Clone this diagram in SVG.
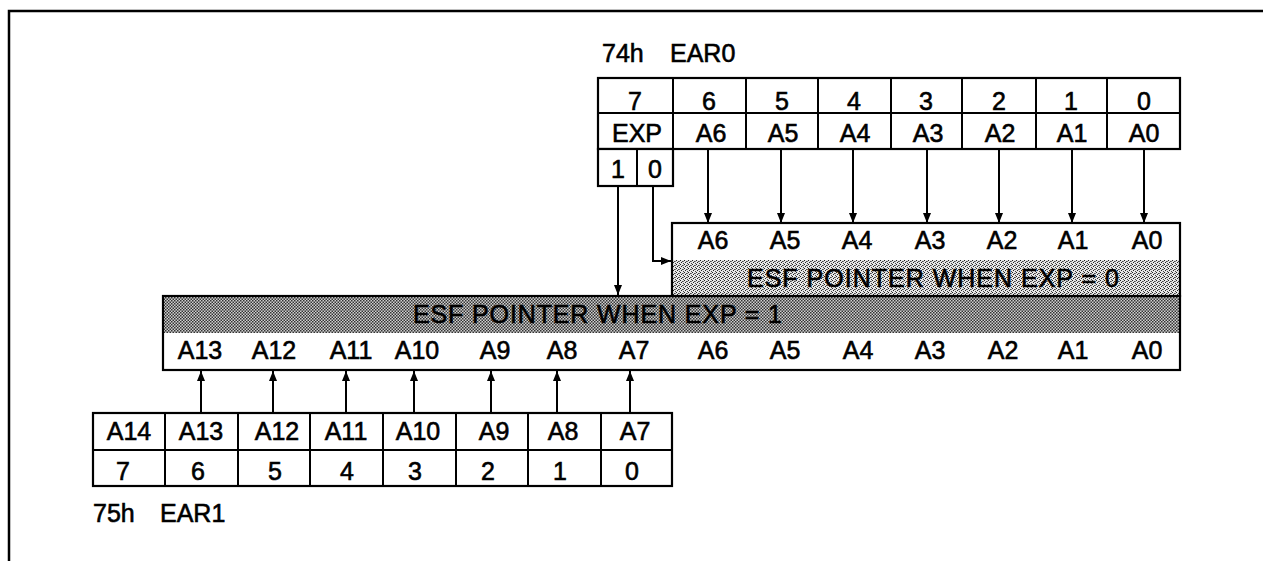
<svg xmlns="http://www.w3.org/2000/svg" width="1263" height="561" viewBox="0 0 1263 561">
<style>
text{font-family:"Liberation Sans",Arial,Helvetica,sans-serif;font-size:25px;fill:#000;stroke:#000;stroke-width:0.6}
.c{text-anchor:middle}
.box{fill:#fff;stroke:#000;stroke-width:2.2}
.ln{fill:none;stroke:#000;stroke-width:2}
.cn{fill:none;stroke:#000;stroke-width:2}
</style>
<defs>
<pattern id="chk" width="3" height="3" patternUnits="userSpaceOnUse">
<rect width="3" height="3" fill="#d0d0d0"/>
<rect x="0" y="0" width="1.5" height="1.5" fill="#333"/>
<rect x="1.5" y="1.5" width="1.5" height="1.5" fill="#333"/>
</pattern>
<pattern id="dth" width="4" height="4" patternUnits="userSpaceOnUse">
<rect width="4" height="4" fill="#e6e6e6"/>
<rect x="0" y="0" width="1" height="1" fill="#222"/>
<rect x="2" y="1" width="1" height="1" fill="#444"/>
<rect x="1" y="2" width="1" height="1" fill="#222"/>
<rect x="3" y="3" width="1" height="1" fill="#444"/>
<rect x="3" y="1" width="1" height="1" fill="#777"/>
</pattern>
<marker id="ah" viewBox="0 0 10 10" refX="10" refY="5" markerWidth="10" markerHeight="10" markerUnits="userSpaceOnUse" orient="auto">
<path d="M0,1 L10,5 L0,9 Z" fill="#000"/>
</marker>
</defs>

<g id="frame">
<path d="M9,561 V11 H1263" fill="none" stroke="#000" stroke-width="2.5"/>
</g>

<g id="ear0">
<text x="602" y="62">74h</text>
<text x="670" y="62">EAR0</text>
<rect class="box" x="598" y="78" width="582" height="71"/>
<path class="ln" d="M598,113 H1180 M673,78 V149 M746,78 V149 M818,78 V149 M891,78 V149 M962,78 V149 M1036,78 V149 M1107,78 V149"/>
<rect class="box" x="598" y="149" width="75" height="37"/>
<path class="ln" d="M637,149 V186"/>
<text class="c" x="635" y="110">7</text>
<text class="c" x="709" y="110">6</text>
<text class="c" x="782" y="110">5</text>
<text class="c" x="854" y="110">4</text>
<text class="c" x="926" y="110">3</text>
<text class="c" x="999" y="110">2</text>
<text class="c" x="1071" y="110">1</text>
<text class="c" x="1144" y="110">0</text>
<text class="c" x="637" y="142">EXP</text>
<text class="c" x="711" y="142">A6</text>
<text class="c" x="783" y="142">A5</text>
<text class="c" x="855" y="142">A4</text>
<text class="c" x="928" y="142">A3</text>
<text class="c" x="1000" y="142">A2</text>
<text class="c" x="1072" y="142">A1</text>
<text class="c" x="1144" y="142">A0</text>
<text class="c" x="618" y="178">1</text>
<text class="c" x="655" y="178">0</text>
</g>

<g id="exp1">
<rect x="163" y="296" width="1017" height="74" fill="#fff"/>
<rect x="163" y="296" width="1017" height="37" fill="url(#chk)"/>
<rect x="163" y="296" width="1017" height="74" fill="none" stroke="#000" stroke-width="2.2"/>
<text x="413" y="323" textLength="369" lengthAdjust="spacing">ESF POINTER WHEN EXP = 1</text>
<text class="c" x="200" y="359">A13</text>
<text class="c" x="274" y="359">A12</text>
<text class="c" x="351" y="359">A11</text>
<text class="c" x="417" y="359">A10</text>
<text class="c" x="495" y="359">A9</text>
<text class="c" x="562" y="359">A8</text>
<text class="c" x="634" y="359">A7</text>
<text class="c" x="713" y="359">A6</text>
<text class="c" x="785" y="359">A5</text>
<text class="c" x="858" y="359">A4</text>
<text class="c" x="930" y="359">A3</text>
<text class="c" x="1003" y="359">A2</text>
<text class="c" x="1073" y="359">A1</text>
<text class="c" x="1147" y="359">A0</text>
</g>

<g id="exp0">
<rect x="672" y="223" width="508" height="73" fill="#fff"/>
<rect x="672" y="260" width="508" height="36" fill="url(#dth)"/>
<rect x="672" y="223" width="508" height="73" fill="none" stroke="#000" stroke-width="2.2"/>
<text class="c" x="713" y="249">A6</text>
<text class="c" x="785" y="249">A5</text>
<text class="c" x="857" y="249">A4</text>
<text class="c" x="930" y="249">A3</text>
<text class="c" x="1002" y="249">A2</text>
<text class="c" x="1073" y="249">A1</text>
<text class="c" x="1147" y="249">A0</text>
<text x="747" y="287" textLength="372" lengthAdjust="spacing">ESF POINTER WHEN EXP = 0</text>
</g>

<g id="ear1">
<rect class="box" x="93" y="413" width="579" height="73"/>
<path class="ln" d="M93,450 H672 M165,413 V486 M238,413 V486 M310,413 V486 M383,413 V486 M456,413 V486 M528,413 V486 M601,413 V486"/>
<text class="c" x="129" y="440">A14</text>
<text class="c" x="201" y="440">A13</text>
<text class="c" x="277" y="440">A12</text>
<text class="c" x="346" y="440">A11</text>
<text class="c" x="418" y="440">A10</text>
<text class="c" x="494" y="440">A9</text>
<text class="c" x="563" y="440">A8</text>
<text class="c" x="635" y="440">A7</text>
<text class="c" x="123" y="480">7</text>
<text class="c" x="198" y="480">6</text>
<text class="c" x="275" y="480">5</text>
<text class="c" x="347" y="480">4</text>
<text class="c" x="415" y="480">3</text>
<text class="c" x="488" y="480">2</text>
<text class="c" x="560" y="480">1</text>
<text class="c" x="632" y="480">0</text>
<text x="93" y="522">75h</text>
<text x="160" y="522">EAR1</text>
</g>

<g id="connectors">
<path class="cn" marker-end="url(#ah)" d="M708,149 V223"/>
<path class="cn" marker-end="url(#ah)" d="M781,149 V223"/>
<path class="cn" marker-end="url(#ah)" d="M853,149 V223"/>
<path class="cn" marker-end="url(#ah)" d="M927,149 V223"/>
<path class="cn" marker-end="url(#ah)" d="M999,149 V223"/>
<path class="cn" marker-end="url(#ah)" d="M1072,149 V223"/>
<path class="cn" marker-end="url(#ah)" d="M1144,149 V223"/>
<path class="cn" marker-end="url(#ah)" d="M618,186 V295"/>
<path class="cn" marker-end="url(#ah)" d="M653,186 V261 H671"/>
<path class="cn" marker-end="url(#ah)" d="M201,413 V371"/>
<path class="cn" marker-end="url(#ah)" d="M273,413 V371"/>
<path class="cn" marker-end="url(#ah)" d="M346,413 V371"/>
<path class="cn" marker-end="url(#ah)" d="M414,413 V371"/>
<path class="cn" marker-end="url(#ah)" d="M491,413 V371"/>
<path class="cn" marker-end="url(#ah)" d="M557,413 V371"/>
<path class="cn" marker-end="url(#ah)" d="M630,413 V371"/>
</g>
</svg>
